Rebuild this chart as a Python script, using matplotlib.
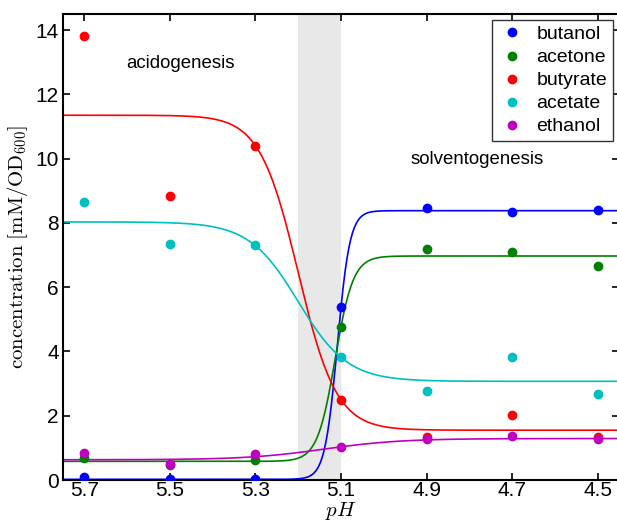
import numpy as np
import matplotlib
matplotlib.use('Agg')
from matplotlib import pyplot as plt

plt.rcParams['font.family'] = ['Liberation Sans', 'DejaVu Sans']
plt.rcParams['mathtext.fontset'] = 'cm'

ph = [5.7, 5.5, 5.3, 5.1, 4.9, 4.7, 4.5]
names = ["butanol", "acetone", "butyrate", "acetate", "ethanol"]
colors = ["b", "g", "r", "c", "m"]

butanol = [0.08, 0.02, 0.02, 5.38, 8.46, 8.35, 8.40]
acetone = [0.70, 0.47, 0.62, 4.77, 7.20, 7.08, 6.66]
butyrate = [13.80, 8.84, 10.40, 2.49, 1.34, 2.02, 1.34]
acetate = [8.65, 7.34, 7.31, 3.83, 2.77, 3.83, 2.68]
ethanol = [0.83, 0.50, 0.80, 1.02, 1.27, 1.36, 1.27]
values = [butanol, acetone, butyrate, acetate, ethanol]

# sigmoid fit parameters: value at high pH, value at low pH, midpoint pH, width
fit_high = [0.02, 0.58, 11.35, 8.03, 0.63]
fit_low = [8.38, 6.97, 1.55, 3.07, 1.29]
fit_mid = [5.1085, 5.1135, 5.20, 5.20, 5.14]
fit_width = [0.0147, 0.0209, 0.0448, 0.0575, 0.09]

fig = plt.figure(figsize=(6.17, 5.23), dpi=100)
ax = fig.add_axes([63 / 617, 43 / 523, 556 / 617, 466 / 523])

ax.axvspan(5.2, 5.1, color='#e8e8e8', lw=0, zorder=0)

xs = np.linspace(5.75, 4.45, 600)
for i in range(len(names)):
    curve = fit_high[i] + (fit_low[i] - fit_high[i]) / (1 + np.exp(-(fit_mid[i] - xs) / fit_width[i]))
    ax.plot(xs, curve, color=colors[i], lw=1.2, zorder=2)
for i in range(len(names)):
    ax.plot(ph, values[i], 'o', color=colors[i], ms=6, label=names[i], zorder=3)

ax.text(5.475, 12.97, "acidogenesis", ha='center', va='center', fontsize=13.4)
ax.text(4.781, 9.96, "solventogenesis", ha='center', va='center', fontsize=13.4)

ax.set_xlim(5.75, 4.45)
ax.set_ylim(0, 14.5)
ax.set_xticks(ph)
ax.set_xticklabels([str(p) for p in ph])
ax.set_yticks(range(0, 15, 2))
ax.tick_params(direction='in', top=True, right=True, labelsize=15, length=5, width=1.2)
ax.tick_params(axis='x', pad=1)
ax.tick_params(axis='y', pad=3)
for s in ax.spines.values():
    s.set_linewidth(1.5)

ax.set_xlabel(r"$pH$", fontsize=15, labelpad=0)
ax.set_ylabel(r"$\mathrm{concentration\ [mM/OD_{600}]}$", fontsize=15, labelpad=4)

leg = ax.legend(loc='upper right', fontsize=14, numpoints=1, handletextpad=0.5,
                fancybox=False, framealpha=1, edgecolor='#333333',
                borderaxespad=0.3, labelspacing=0.28, handlelength=1.5,
                borderpad=0.3)
leg.get_frame().set_linewidth(1.0)

fig.savefig("out.png", dpi=100)
